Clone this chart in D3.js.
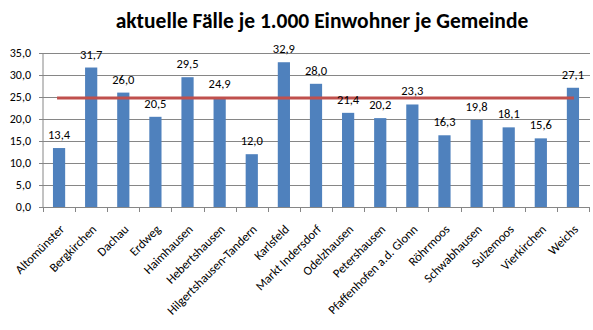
<!DOCTYPE html>
<html><head><meta charset="utf-8">
<script src="https://cdn.jsdelivr.net/npm/d3@7"></script>
<style>
body{margin:0;background:#fff;}
svg{display:block;font-family:Carlito,Lato,"Open Sans",sans-serif;}
</style></head>
<body><svg id="c" width="593" height="330"></svg>
<script>
const categories = ["Altomünster","Bergkirchen","Dachau","Erdweg","Haimhausen","Hebertshausen","Hilgertshausen-Tandern","Karlsfeld","Markt Indersdorf","Odelzhausen","Petershausen","Pfaffenhofen a.d. Glonn","Röhrmoos","Schwabhausen","Sulzemoos","Vierkirchen","Weichs"];
const values = [13.4,31.7,26.0,20.5,29.5,24.9,12.0,32.9,28.0,21.4,20.2,23.3,16.3,19.8,18.1,15.6,27.1];
const referenceValue = [24.8];
const yTicks = [0,5,10,15,20,25,30,35];
const title = "aktuelle Fälle je 1.000 Einwohner je Gemeinde";

const svg = d3.select("#c");
const L = 43, R = 589, T = 53, B = 207;
const x = d3.scaleBand().domain(categories).range([L, R]).paddingInner(0.62).paddingOuter(0.31);
const xb = d3.scaleBand().domain(categories).range([L, R]);
const y = d3.scaleLinear().domain([0,35]).range([B, T]);
const fmt = v => d3.format(".1f")(v).replace(".", ",");

svg.append("text").attr("x", 322).attr("y", 28).attr("text-anchor","middle")
  .attr("font-size", 21.5).attr("font-weight","bold").attr("fill","#000").text(title);

// gridlines
svg.append("g").selectAll("line").data(yTicks.filter(d=>d>0)).join("line")
  .attr("x1", L-4).attr("x2", R+1).attr("y1", d=>y(d)).attr("y2", d=>y(d))
  .attr("stroke","#868686").attr("stroke-width",1).attr("shape-rendering","crispEdges");

// y axis
const ya = svg.append("g").attr("transform",`translate(${L},0)`)
  .call(d3.axisLeft(y).tickValues(yTicks).tickFormat(fmt).tickSize(4).tickPadding(8));
ya.select(".domain").attr("stroke","#868686").attr("d",`M0,${B}V${T}`);
ya.selectAll(".tick line").attr("stroke","#868686");
ya.selectAll("text").attr("font-size",12).attr("fill","#000").attr("font-family","Carlito,Lato,sans-serif");

// bars
svg.append("g").selectAll("rect").data(values).join("rect")
  .attr("x",(d,i)=>x(categories[i])).attr("width",x.bandwidth())
  .attr("y",d=>y(d)).attr("height",d=>B-y(d)).attr("fill","#4F81BD");

// x axis
const xa = svg.append("g").attr("transform",`translate(0,${B})`);
xa.append("line").attr("x1",L).attr("x2",R+1).attr("y1",0.5).attr("y2",0.5).attr("stroke","#868686");
xa.selectAll("line.tk").data(d3.range(categories.length+1)).join("line").attr("class","tk")
  .attr("x1",i=>Math.round(L+i*xb.step())+0.5).attr("x2",i=>Math.round(L+i*xb.step())+0.5)
  .attr("y1",0).attr("y2",5).attr("stroke","#868686");
xa.selectAll("text").data(categories).join("text")
  .attr("transform",d=>`translate(${xb(d)+xb.bandwidth()/2+6},${23}) rotate(-45)`)
  .attr("text-anchor","end").attr("font-size",12.5).attr("fill","#000").text(d=>d);

// reference line
const cx = d => x(d)+x.bandwidth()/2;
svg.append("line").datum(referenceValue[0])
  .attr("x1",cx(categories[0])-2).attr("x2",cx(categories[categories.length-1])+1)
  .attr("y1",d=>y(d)).attr("y2",d=>y(d)).attr("stroke","#C0504D").attr("stroke-width",3);

// labels
svg.append("g").selectAll("text").data(values).join("text")
  .attr("x",(d,i)=>cx(categories[i])).attr("y",d=>y(d)-9)
  .attr("text-anchor","middle").attr("font-size",12.5).attr("fill","#000").text(fmt);
</script></body></html>
